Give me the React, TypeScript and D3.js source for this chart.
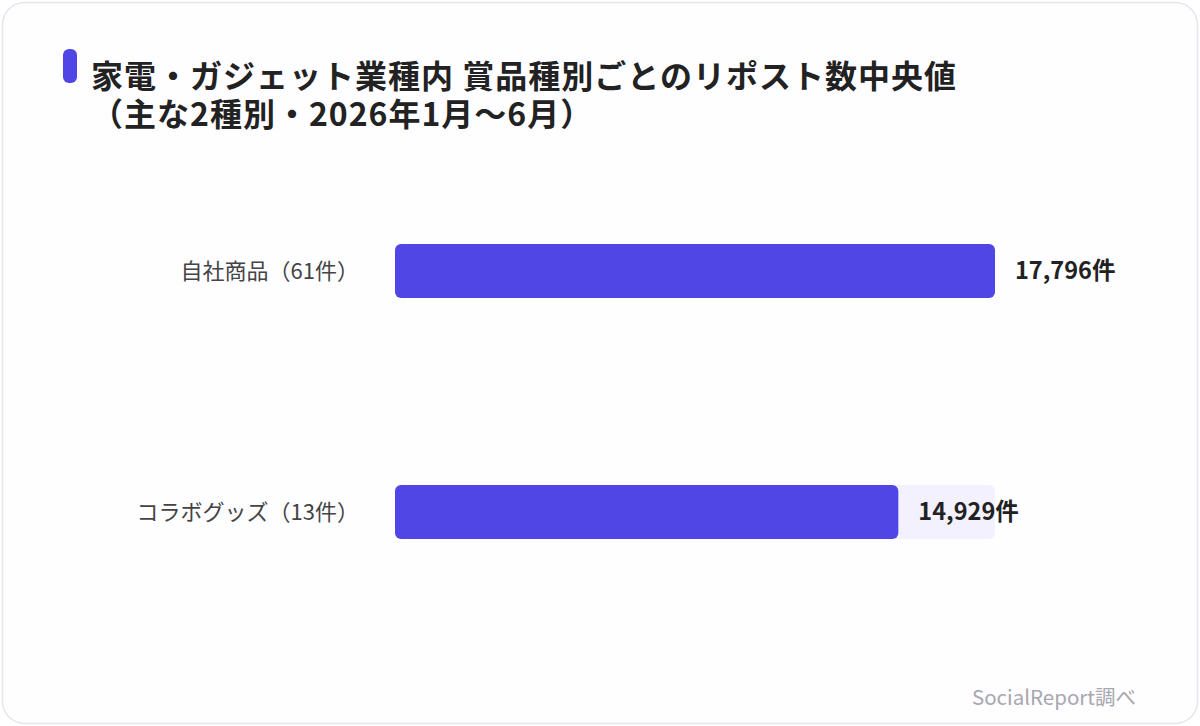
import { useEffect, useRef } from "react";
import * as d3 from "d3";

// chart data
const categories = ["自社商品（61件）", "コラボグッズ（13件）"];
const medians = [17796, 14929];
const titleLines = [
  "家電・ガジェット業種内 賞品種別ごとのリポスト数中央値",
  "（主な2種別・2026年1月〜6月）",
];
const sourceNote = "SocialReport調べ";

const W = 1200;
const H = 726;
const FONT = "'Noto Sans CJK JP', 'Noto Sans', sans-serif";
const ACCENT = "#4f46e5";
const TRACK = "#f3f1fd";

export default function App() {
  const svgRef = useRef<SVGSVGElement | null>(null);

  useEffect(() => {
    const svg = d3.select(svgRef.current);
    svg.selectAll("*").remove();

    // card
    svg
      .append("rect")
      .attr("x", 2.5)
      .attr("y", 2.5)
      .attr("width", W - 5)
      .attr("height", H - 5)
      .attr("rx", 22)
      .attr("fill", "#fefdff")
      .attr("stroke", "#e6e4ec")
      .attr("stroke-width", 1.5);

    // title with accent pill
    svg
      .append("rect")
      .attr("x", 63)
      .attr("y", 49)
      .attr("width", 14)
      .attr("height", 34)
      .attr("rx", 6)
      .attr("fill", ACCENT);
    svg
      .append("g")
      .selectAll("text")
      .data(titleLines)
      .join("text")
      .attr("x", 91)
      .attr("y", (_d, i) => 88 + i * 38)
      .attr("font-family", FONT)
      .attr("font-size", 32)
      .attr("font-weight", 700)
      .attr("letter-spacing", 1)
      .attr("fill", "#222")
      .text((d) => d);

    const x0 = 395;
    const x = d3.scaleLinear().domain([0, d3.max(medians)!]).range([x0, 995]);
    const y = d3
      .scaleBand<string>()
      .domain(categories)
      .range([171.7, 611.3])
      .paddingInner(0.776)
      .paddingOuter(0.3);

    const rows = categories.map((c, i) => ({ c, v: medians[i] }));
    const g = svg.append("g");

    // track
    g.selectAll("rect.track")
      .data(rows)
      .join("rect")
      .attr("class", "track")
      .attr("x", x0)
      .attr("y", (d) => y(d.c)!)
      .attr("width", x.range()[1] - x0)
      .attr("height", y.bandwidth())
      .attr("rx", 6)
      .attr("fill", TRACK);

    g.selectAll("rect.bar")
      .data(rows)
      .join("rect")
      .attr("class", "bar")
      .attr("x", x0)
      .attr("y", (d) => y(d.c)!)
      .attr("width", (d) => x(d.v) - x0)
      .attr("height", y.bandwidth())
      .attr("rx", 6)
      .attr("fill", ACCENT);

    g.selectAll("text.cat")
      .data(rows)
      .join("text")
      .attr("class", "cat")
      .attr("x", x0 - 36)
      .attr("y", (d) => y(d.c)! + y.bandwidth() / 2)
      .attr("dy", "0.35em")
      .attr("text-anchor", "end")
      .attr("font-family", FONT)
      .attr("font-size", 22)
      .attr("fill", "#444")
      .text((d) => d.c);

    g.selectAll("text.val")
      .data(rows)
      .join("text")
      .attr("class", "val")
      .attr("x", (d) => x(d.v) + 20)
      .attr("y", (d) => y(d.c)! + y.bandwidth() / 2)
      .attr("dy", "0.35em")
      .attr("font-family", FONT)
      .attr("font-size", 23.5)
      .attr("font-weight", 700)
      .attr("fill", "#222")
      .text((d) => `${d3.format(",")(d.v)}件`);

    svg
      .append("text")
      .attr("x", 1136)
      .attr("y", 705)
      .attr("text-anchor", "end")
      .attr("font-family", FONT)
      .attr("font-size", 20.5)
      .attr("fill", "#a8a6ae")
      .text(sourceNote);
  }, []);

  return (
    <svg
      ref={svgRef}
      width={W}
      height={H}
      viewBox={`0 0 ${W} ${H}`}
      style={{ display: "block", position: "absolute", left: 0, top: 0 }}
    />
  );
}
